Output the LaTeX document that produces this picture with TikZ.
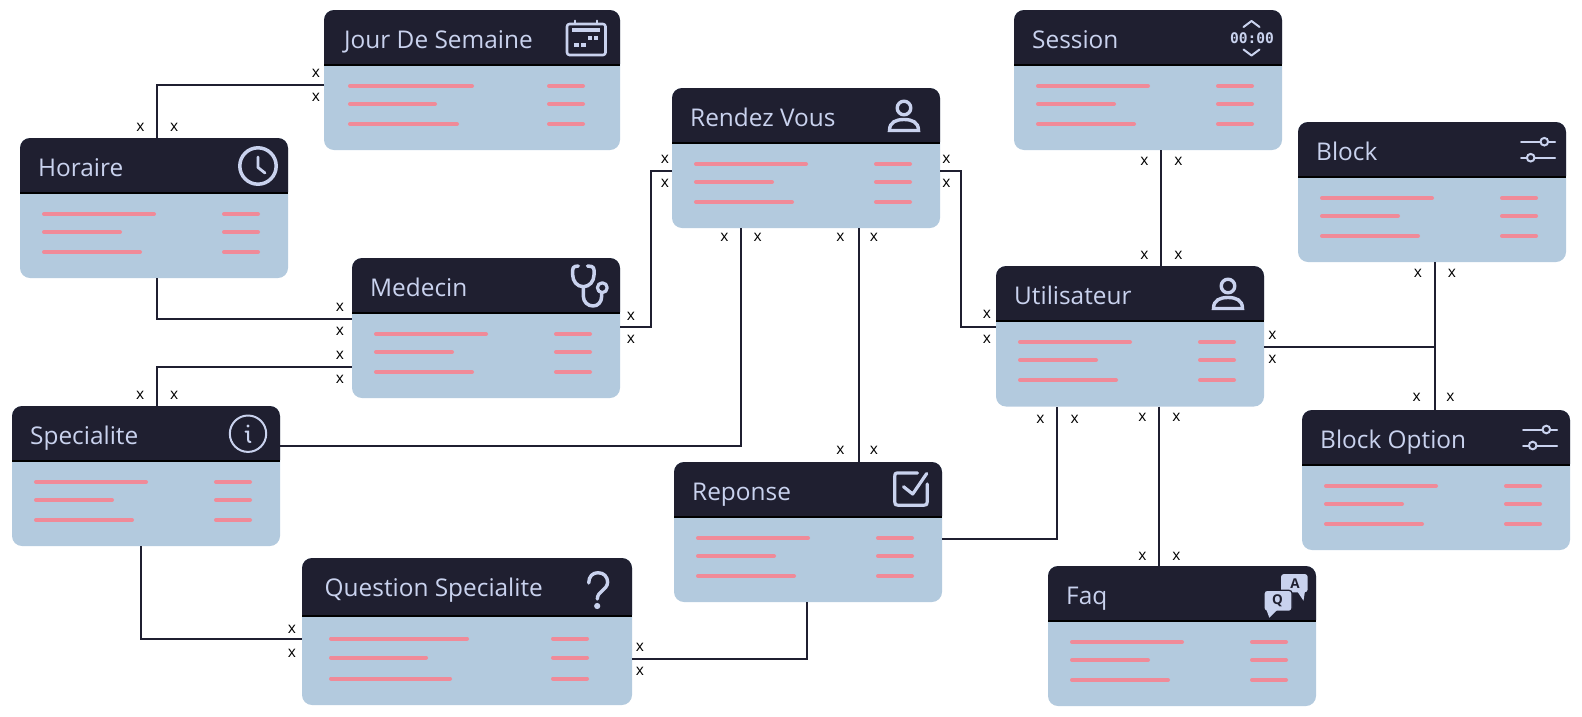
\documentclass[tikz,border=0pt]{standalone}
\usepackage{fontspec}
\setmainfont{Open Sans}
\newfontfamily\monoicon{DejaVu Sans Mono}
\definecolor{hdr}{HTML}{1F1F30}
\definecolor{body}{HTML}{B3CADE}
\definecolor{rowc}{HTML}{F08A98}
\definecolor{ink}{HTML}{C9D2EE}
\tikzset{
  cardbox/.style={rectangle,anchor=north west,fill=body,rounded corners=10pt,inner sep=0pt,outer sep=0pt},
  cardtitle/.style={anchor=base west,text=ink,inner sep=0pt,font=\fontsize{24.4}{26}\selectfont},
  rowline/.style={draw=rowc,line width=4pt,line cap=round},
  conn/.style={draw=hdr,line width=2pt,line join=miter},
  xmark/.style={inner sep=0pt,text=black,font=\fontsize{15.5}{16}\selectfont},
  icon/.style={draw=ink,line width=3.5pt,line cap=round,line join=round},
  thinicon/.style={draw=ink,line width=2pt,line cap=round},
}
\newcommand{\card}[7]{% name,x,y,w,h,header height,title offset
  \node[cardbox,minimum width=#4pt,minimum height=#5pt] (#1) at (#2,#3) {};
  \fill[hdr] ([yshift=-#6pt]#1.north west) [rounded corners=10pt] -- (#1.north west) -- (#1.north east) [sharp corners] -- ([yshift=-#6pt]#1.north east) -- cycle;
  \fill[black] ([yshift=-#6pt]#1.north west) rectangle ([yshift=-#6pt-2pt]#1.north east);
}
\newcommand{\cardtitle}[3]{\node[cardtitle] (#1-title) at ([xshift=#2pt,yshift=-38pt]#1.north west) {#3};}
% name, left, a, b, c, right start, right end, y1,y2,y3
\newcommand{\rows}[9]{%
  \draw[rowline] ([xshift=#2pt+2pt,yshift=-#7pt]#1.north west) -- ([xshift=#2pt+#3pt-2pt,yshift=-#7pt]#1.north west);
  \draw[rowline] ([xshift=#2pt+2pt,yshift=-#8pt]#1.north west) -- ([xshift=#2pt+#4pt-2pt,yshift=-#8pt]#1.north west);
  \draw[rowline] ([xshift=#2pt+2pt,yshift=-#9pt]#1.north west) -- ([xshift=#2pt+#5pt-2pt,yshift=-#9pt]#1.north west);
  \draw[rowline] ([xshift=#6pt+2pt,yshift=-#7pt]#1.north west) -- ++(34pt,0pt);
  \draw[rowline] ([xshift=#6pt+2pt,yshift=-#8pt]#1.north west) -- ++(34pt,0pt);
  \draw[rowline] ([xshift=#6pt+2pt,yshift=-#9pt]#1.north west) -- ++(34pt,0pt);
}
\newcommand{\std}[1]{\rows{#1}{22}{114}{80}{100}{202}{76}{94}{114}}
\newcounter{xm}
\newcommand{\xm}[2]{\stepcounter{xm}\node[xmark] (xm\thexm) at (#1,#2) {x};}
\newcommand{\person}[2]{% head centre
  \begin{scope}[shift={(#1,#2)}]
    \draw[icon,line width=3.4pt] (0,0) circle[radius=6.8pt];
    \draw[icon,line width=3.4pt,line join=miter] (-14.5,22.5) .. controls (-14.5,14) and (-8,11.5) .. (0,11.5) .. controls (8,11.5) and (14.5,14) .. (14.5,22.5) -- cycle;
  \end{scope}}
\newcommand{\sliders}[2]{% left, top of icon
  \begin{scope}[shift={(#1,#2)}]
    \draw[thinicon] (0,0) -- (34,0);
    \draw[thinicon] (0,16) -- (34,16);
    \draw[thinicon,fill=hdr] (23.3,0) circle[radius=3.8pt];
    \draw[thinicon,fill=hdr] (9.7,16) circle[radius=3.8pt];
  \end{scope}}
\begin{document}
\begin{tikzpicture}[x=1pt,y=-1pt]
\useasboundingbox (0,0) rectangle (1582,716);
% cards
\card{jour}{324}{10}{296}{140}{54}{}
\card{horaire}{20}{138}{268}{140}{54}{}
\card{session}{1014}{10}{268}{140}{54}{}
\card{block}{1298}{122}{268}{140}{54}{}
\card{medecin}{352}{258}{268}{140}{54}{}
\card{rendez}{672}{88}{268}{140}{54}{}
\card{util}{996}{266}{268}{140.5}{54}{}
\card{spec}{12}{406}{268}{140}{54}{}
\card{option}{1302}{410}{268}{140}{54}{}
\card{reponse}{674}{462}{268}{140}{54}{}
\card{question}{302}{558}{330}{147}{57}{}
\card{faq}{1048}{566}{268}{140}{54}{}
% titles
\cardtitle{jour}{20}{Jour De Semaine}
\cardtitle{horaire}{18}{Horaire}
\cardtitle{session}{18}{Session}
\cardtitle{block}{18}{Block}
\cardtitle{medecin}{18}{Medecin}
\cardtitle{rendez}{18}{Rendez Vous}
\cardtitle{util}{18}{Utilisateur}
\cardtitle{spec}{18}{Specialite}
\cardtitle{option}{18}{Block Option}
\cardtitle{reponse}{18}{Reponse}
\cardtitle{question}{22.5}{Question Specialite}
\cardtitle{faq}{18}{Faq}
% rows
\rows{jour}{24}{126}{89}{111}{223}{76}{94}{114}
\std{horaire}\std{session}\std{block}\std{medecin}\std{rendez}\std{util}\std{spec}\std{option}\std{reponse}\std{faq}
\rows{question}{27}{140}{99}{123}{249}{80.5}{99.5}{120.5}
% connectors
\draw[conn] ([xshift=137pt]horaire.north west) |- ([yshift=-75pt]jour.north west);
\draw[conn] ([xshift=137pt]horaire.south west) |- ([yshift=-61pt]medecin.north west);
\draw[conn] ([xshift=144.7pt]spec.north west) |- ([yshift=-109pt]medecin.north west);
\draw[conn] ([yshift=-69pt]medecin.north east) -- ++(31pt,0pt) |- ([yshift=-82.5pt]rendez.north west);
\draw[conn] ([yshift=-40pt]spec.north east) -| ([xshift=69.2pt]rendez.south west);
\draw[conn] ([xshift=186.6pt]rendez.south west) -- ([xshift=184.6pt]reponse.north west);
\draw[conn] ([yshift=-82.5pt]rendez.north east) -- ++(20.5pt,0pt) |- ([yshift=-61pt]util.north west);
\draw[conn] ([xshift=147pt]session.south west) -- ([xshift=165pt]util.north west);
\draw[conn] ([yshift=-81pt]util.north east) -| ([xshift=137pt]block.south west);
\draw[conn] ([yshift=-81pt]util.north east) -| ([xshift=133pt]option.north west);
\draw[conn] ([yshift=-77pt]reponse.north east) -| ([xshift=61.4pt]util.south west);
\draw[conn] ([xshift=163pt]util.south west) -- ([xshift=111pt]faq.north west);
\draw[conn] ([xshift=129pt]spec.south west) |- ([yshift=-81pt]question.north west);
\draw[conn] ([xshift=133pt]reponse.south west) |- ([yshift=-101pt]question.north east);
% x marks
\xm{316}{73.5}\xm{316}{97.5}\xm{140.4}{127.5}\xm{174.3}{127.5}
\xm{340}{307.5}\xm{340}{331.5}\xm{340}{355.5}\xm{340}{379.5}
\xm{140.3}{395.7}\xm{174.3}{395.7}
\xm{631}{316}\xm{631}{339.5}\xm{665}{159.5}\xm{665}{183.6}
\xm{724.4}{237.5}\xm{757.7}{237.5}\xm{840.5}{237.5}\xm{873.8}{237.5}
\xm{840.5}{450.5}\xm{873.8}{450.5}
\xm{946.5}{159.5}\xm{946.5}{183.6}\xm{986.8}{314.8}\xm{986.8}{339}
\xm{1144.5}{161.4}\xm{1178.5}{161.4}\xm{1144.5}{255.5}\xm{1178.5}{255.5}
\xm{1272.4}{335}\xm{1272.4}{359.3}
\xm{1418}{273.4}\xm{1452}{273.4}\xm{1416.6}{397.5}\xm{1450.5}{397.5}
\xm{1040.3}{419.7}\xm{1074.6}{419.7}\xm{1142.5}{417.7}\xm{1176.5}{417.7}
\xm{1142.5}{556}\xm{1176.5}{556}
\xm{292}{629.6}\xm{292}{653.8}\xm{640}{647.7}\xm{640}{671.7}
% calendar icon
\draw[icon,line width=2.6pt,rounded corners=2.5pt] (567,24) rectangle (605.5,55);
\draw[icon,line width=2pt] (575,20.5) -- (575,24);
\draw[icon,line width=2pt] (597,20.5) -- (597,24);
\fill[ink] (572,28) rectangle (600,32);
\fill[ink] (587.5,36) rectangle (592,40);
\fill[ink] (593.5,36) rectangle (598,40);
\fill[ink] (573.5,43) rectangle (579,47);
\fill[ink] (580.5,43) rectangle (586,47);
% clock
\draw[icon] (258,166) circle[radius=18.2pt];
\draw[icon,line width=2.8pt] (258,157) -- (258,167.5) -- (265,173);
% persons
\person{904}{108}
\person{1228}{286}
% session icon
\draw[icon,line width=2pt] (1243.5,27) -- (1251.5,21) -- (1259.5,27);
\draw[icon,line width=2pt] (1243.5,49.5) -- (1251.5,55.5) -- (1259.5,49.5);
\node[inner sep=0pt,text=ink,font=\monoicon\bfseries\fontsize{14.6}{15}\selectfont] (clocktext) at (1252,37.7) {00:00};
% sliders
\sliders{1521}{141.7}
\sliders{1523}{429.5}
% stethoscope
\draw[icon] (578.3,266) -- (575,266.5) .. controls (573.5,267) and (572.7,268) .. (572.7,270) -- (572.7,275) .. controls (572.7,281) and (577,286.7) .. (583.3,286.7) .. controls (589.6,286.7) and (594,281) .. (594,275) -- (594,270) .. controls (594,268) and (593,267) .. (591.5,266.5) -- (587.5,266);
\draw[icon] (583.3,286.7) -- (583.3,296) .. controls (583.3,302) and (588,306) .. (593,306) .. controls (598,306) and (601.7,302) .. (601.7,296) -- (601.7,293.5);
\draw[icon,line width=3.2pt] (602.3,287.7) circle[radius=4.9pt];
% info
\draw[thinicon] (248,433.7) circle[radius=18.2pt];
\fill[ink] (248,426) circle[radius=1.7pt];
\draw[thinicon] (245.5,431.5) -- (248,431.5) -- (248,439.5) .. controls (248,441.5) and (249,442) .. (250.5,442);
% check
\draw[icon,line width=3.2pt] (917.5,473) -- (897,473) .. controls (895,473) and (894.8,474) .. (894.8,476) -- (894.8,502) .. controls (894.8,504.5) and (895.5,505.2) .. (898,505.2) -- (924,505.2) .. controls (926.5,505.2) and (927.2,504.5) .. (927.2,502) -- (927.2,484);
\draw[icon,line width=3.2pt] (903.5,486.7) -- (912.7,494) -- (926.7,473.5);
% question mark
\draw[icon,line width=3.4pt] (588.7,583) .. controls (588.7,576) and (593,572.7) .. (598,572.7) .. controls (604,572.7) and (607.6,577) .. (607.6,582) .. controls (607.6,590) and (597.3,591) .. (597.3,599);
\fill[ink] (597.2,606) circle[radius=3.1pt];
% faq icon
\fill[ink,rounded corners=3pt] (1281,574) rectangle (1307.7,592.3);
\fill[ink] (1297,591) -- (1303.5,600.7) -- (1305,591) -- cycle;
\draw[fill=ink,draw=hdr,line width=1.2pt,rounded corners=3pt] (1264,590.3) rectangle (1292,611.3);
\fill[ink] (1266.5,610) -- (1269.3,617.7) -- (1277,610) -- cycle;
\node[inner sep=0pt,text=hdr,font=\bfseries\fontsize{13.5}{14}\selectfont] (faqa) at (1295,584) {A};
\node[inner sep=0pt,text=hdr,font=\bfseries\fontsize{13.5}{14}\selectfont] (faqq) at (1277.5,601) {Q};
\end{tikzpicture}
\end{document}
